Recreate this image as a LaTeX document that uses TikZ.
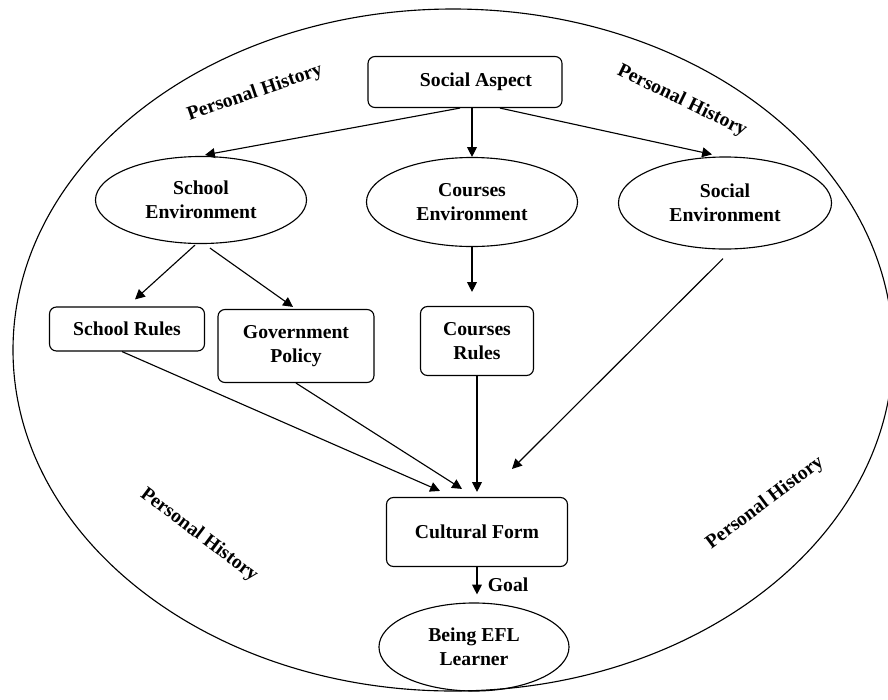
\documentclass[tikz,border=0pt]{standalone}
\usepackage{fontspec}
\setmainfont{Liberation Serif}
\usetikzlibrary{shapes.geometric,arrows.meta,calc}

\begin{document}
\begin{tikzpicture}[x=0.025cm,y=-0.025cm,
  font=\fontsize{14}{17}\selectfont\bfseries,
  box/.style={draw,rounded corners=5pt,line width=0.8pt,align=center,inner sep=2pt},
  oval/.style={draw,ellipse,line width=0.8pt,align=center,inner sep=1pt},
  hist/.style={inner sep=0pt},
  arr/.style={-{Triangle[length=7pt,width=7pt]},line width=0.8pt}]
\useasboundingbox (0,0) rectangle (888,699);

% Outer boundary
\draw[line width=0.8pt] (453,350) ellipse [x radius=440,y radius=341];

% Top
\node[box,minimum width=4.85cm,minimum height=1.275cm] (sa) at (465,82) {\hspace*{0.55cm}Social Aspect};

% Environments
\node[oval,minimum width=5.275cm,minimum height=2.175cm] (schenv) at (201,200) {School\\Environment};
\node[oval,minimum width=5.275cm,minimum height=2.225cm] (courenv) at (472,202) {Courses\\Environment};
\node[oval,minimum width=5.325cm,minimum height=2.3cm] (socenv) at (725,203) {Social\\Environment};

% Rules
\node[box,minimum width=3.875cm,minimum height=1.1cm] (schrules) at (127,329) {School Rules};
\node[box,minimum width=3.9cm,minimum height=1.825cm] (gov) at (296,346) {Government\\Policy};
\node[box,minimum width=2.825cm,minimum height=1.725cm] (courrules) at (477,341) {Courses\\Rules};

% Bottom
\node[box,minimum width=4.525cm,minimum height=1.725cm] (cf) at (477,532) {Cultural Form};
\node[oval,minimum width=4.75cm,minimum height=2.2cm] (efl) at (474,647) {Being EFL\\Learner};

% Personal History
\node[hist,rotate=19] (ph1) at (255,93) {Personal History};
\node[hist,rotate=-26] (ph2) at (682,101) {Personal History};
\node[hist,rotate=-37] (ph3) at (199,535) {Personal History};
\node[hist,rotate=37] (ph4) at (765,503) {Personal History};

% Arrows
\draw[arr] ($(sa.south)+(-5,0)$) -- ($(schenv.north)+(4,-1)$);
\draw[arr] (sa.south -| courenv.north) -- (courenv.north);
\draw[arr] ($(sa.south)+(35,0)$) -- ($(socenv.north)+(-13,-2)$);
\draw[arr] ($(schenv.south)+(-6,1)$) -- ($(schrules.north)+(8,-7)$);
\draw[arr] ($(schenv.south)+(9,4)$) -- ($(gov.north)+(-3,-2)$);
\draw[arr,shorten >=0.35cm] (courenv.south) -- (courenv.south |- courrules.north);
\draw[arr] ($(schrules.south)+(-5,0)$) -- ($(cf.north)+(-37,-6)$);
\draw[arr] (gov.south) -- ($(cf.north)+(-15,-8)$);
\draw[arr,shorten >=0.125cm] (courrules.south) -- (cf.north);
\draw[arr] ($(socenv.south)+(-2,9)$) -- ($(cf.north)+(35,-28)$);
\draw[arr,shorten >=0.2cm] (cf.south) -- (cf.south |- efl.north) node[midway,right=4pt] (goal) {Goal};
\end{tikzpicture}
\end{document}
